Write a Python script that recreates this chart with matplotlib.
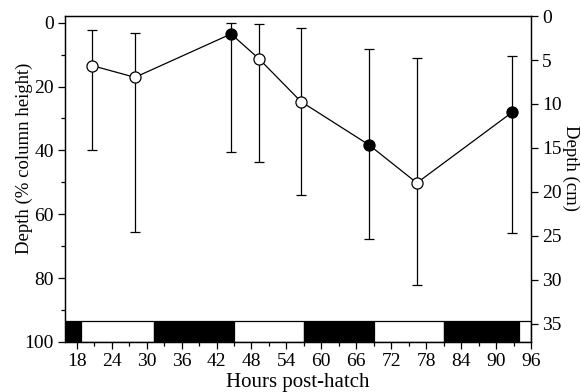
import matplotlib
matplotlib.use('Agg')
import matplotlib.pyplot as plt
from matplotlib.ticker import MultipleLocator

plt.rcParams['font.family'] = ['Liberation Serif', 'DejaVu Serif']

# Sampling times (hours post-hatch) and mean depth (% column height)
hours = [20.6, 28.0, 44.5, 49.3, 56.5, 68.2, 76.4, 92.8]
depth = [13.4, 17.1, 3.5, 11.3, 24.7, 38.3, 50.2, 28.0]
err_top = [2.3, 3.1, 0.0, 0.4, 1.5, 8.1, 11.1, 10.4]
err_bot = [40.0, 65.5, 40.6, 43.7, 53.9, 67.9, 82.2, 65.8]
night = [False, False, True, False, False, True, False, True]

# Light/dark bar: (start, end, is_dark)
periods = [(16, 18.75, True), (18.75, 31.25, False), (31.25, 45, True),
           (45, 57, False), (57, 69, True), (69, 81, False),
           (81, 94, True), (94, 96, False)]

fig = plt.figure(figsize=(5.81, 3.92), dpi=100)
ax = fig.add_axes([0.112, 0.128, 0.802, 0.831])

lower = [d - t for d, t in zip(depth, err_top)]
upper = [b - d for d, b in zip(depth, err_bot)]
ax.errorbar(hours, depth, yerr=[lower, upper], fmt='none', ecolor='black',
            elinewidth=0.9, capsize=3.5, capthick=0.9, zorder=2)
ax.plot(hours, depth, color='black', lw=0.9, zorder=3)
for h, d, n in zip(hours, depth, night):
    ax.plot(h, d, 'o', ms=8, mec='black', mew=0.9,
            mfc='black' if n else 'white', zorder=4)

# light/dark band
for start, end, dark in periods:
    ax.bar(start, 100 - 93.5, width=end - start, bottom=93.5, align='edge',
           color='black' if dark else 'white', edgecolor='black', lw=0.9,
           zorder=1)

ax.set_xlim(16, 96)
ax.set_ylim(100, -2.1)
ax.xaxis.set_major_locator(MultipleLocator(6))
ax.xaxis.set_minor_locator(MultipleLocator(3))
ax.yaxis.set_major_locator(MultipleLocator(20))
ax.yaxis.set_minor_locator(MultipleLocator(10))
ax.tick_params(which='both', direction='out', labelsize=14, width=0.9)
ax.tick_params(which='major', length=5, pad=3)
ax.tick_params(which='minor', length=3)
ax.set_xlabel('Hours post-hatch', fontsize=15, labelpad=2)
ax.set_ylabel('Depth (% column height)', fontsize=13.5)
ax.yaxis.set_label_coords(-0.068, 0.563)

ax2 = ax.twinx()
ax2.set_ylim(37.05, 0)
ax2.yaxis.set_major_locator(MultipleLocator(5))
ax2.tick_params(direction='out', length=5, width=0.9, labelsize=14, pad=3)
ax2.set_ylabel('Depth (cm)', fontsize=13.5, rotation=270)
ax2.yaxis.set_label_coords(1.104, 0.535)

for a in (ax, ax2):
    for s in a.spines.values():
        s.set_linewidth(0.9)

fig.savefig('out.png', dpi=100)
